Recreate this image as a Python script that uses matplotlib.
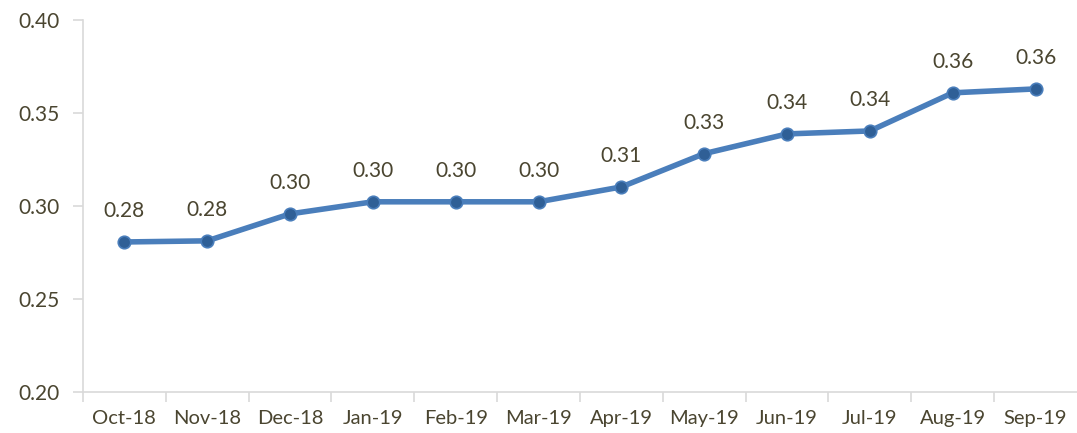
import matplotlib.pyplot as plt
from matplotlib.ticker import FixedLocator

months = ['Oct-18', 'Nov-18', 'Dec-18', 'Jan-19', 'Feb-19', 'Mar-19',
          'Apr-19', 'May-19', 'Jun-19', 'Jul-19', 'Aug-19', 'Sep-19']
values = [0.2806, 0.2812, 0.2957, 0.3022, 0.3022, 0.3022,
          0.3102, 0.3281, 0.3387, 0.3403, 0.3608, 0.3629]

plt.rcParams['font.family'] = ['Lato', 'DejaVu Sans']
text_col = '#4a4530'
grid_col = '#d9d9d9'

fig = plt.figure(figsize=(10.77, 4.33), dpi=100)
ax = fig.add_axes([0.077, 0.095, 0.923, 0.859])

x = range(len(months))
ax.plot(x, values, color='#4a7ebb', linewidth=4, marker='o',
        markersize=9, markerfacecolor='#2f5f96', markeredgecolor='#4a7ebb',
        markeredgewidth=1.2, solid_capstyle='round', zorder=3)

for i, v in enumerate(values):
    ax.annotate(f'{v:.2f}', (i, v), xytext=(0, 22), textcoords='offset points',
                ha='center', va='center', fontsize=15, color=text_col)

ax.set_xlim(-0.5, len(months) - 0.5)
ax.set_ylim(0.20, 0.40)
ax.set_yticks([0.20, 0.25, 0.30, 0.35, 0.40])
ax.set_yticklabels([f'{t:.2f}' for t in [0.20, 0.25, 0.30, 0.35, 0.40]])
ax.set_xticks(list(x))
ax.set_xticklabels(months)
ax.xaxis.set_minor_locator(FixedLocator([i + 0.5 for i in range(-1, len(months) - 1)]))

ax.tick_params(axis='x', which='major', length=0, pad=13, labelsize=14.5, labelcolor=text_col)
ax.tick_params(axis='x', which='minor', length=7, width=1.2, color=grid_col)
ax.tick_params(axis='y', length=7, width=1.2, color=grid_col, pad=10,
               labelsize=15, labelcolor=text_col)

for s in ['top', 'right']:
    ax.spines[s].set_visible(False)
for s in ['left', 'bottom']:
    ax.spines[s].set_color(grid_col)
    ax.spines[s].set_linewidth(1.2)

fig.savefig('out.png', dpi=100)
